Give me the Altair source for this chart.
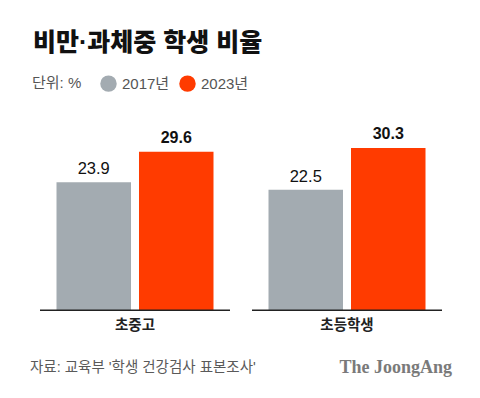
import altair as alt
import pandas as pd

categories = ["초중고", "초등학생"]
years = ["2017년", "2023년"]
values_2017 = [23.9, 22.5]
values_2023 = [29.6, 30.3]
colors = ["#a3abb1", "#ff3b00"]

title_text = "비만·과체중 학생 비율"
unit_text = "단위: %"
source_text = "자료: 교육부 '학생 건강검사 표본조사'"
brand_text = "The JoongAng"

rows = []
for c, v in zip(categories, values_2017):
    rows.append({"category": c, "year": years[0], "value": v})
for c, v in zip(categories, values_2023):
    rows.append({"category": c, "year": years[1], "value": v})
df = pd.DataFrame(rows)
df_cat = pd.DataFrame({"category": categories})

KR = "Liberation Sans, Noto Sans CJK KR"
NUM = "Liberation Sans, Arial"

x_enc = alt.X("category:N", sort=categories, axis=None,
              scale=alt.Scale(paddingInner=0.1038, paddingOuter=0))
xo_enc = alt.XOffset("year:N", sort=years,
                     scale=alt.Scale(paddingInner=0.097, paddingOuter=0.2))
y_enc = alt.Y("value:Q", axis=None, scale=alt.Scale(domain=[0, 40]))

base = alt.Chart(df)

bars = base.mark_bar().encode(
    x=x_enc, xOffset=xo_enc, y=y_enc,
    color=alt.Color("year:N", scale=alt.Scale(domain=years, range=colors),
                    legend=alt.Legend(
                        title=unit_text, orient="none", direction="horizontal",
                        legendX=-8, legendY=-21,
                        titleOrient="left", titleFontSize=15, titleFont=KR,
                        titleFontWeight="normal", titleColor="#555",
                        titlePadding=18, titleBaseline="middle",
                        symbolType="circle", symbolSize=270, symbolStrokeWidth=0,
                        symbolOpacity=1,
                        labelFont=KR, labelFontSize=15, labelColor="#555",
                        labelOffset=5, columnPadding=9)),
)

labels_2017 = base.transform_filter(alt.datum.year == years[0]).mark_text(
    baseline="bottom", dy=-5, font=NUM, fontSize=16.5, color="#111"
).encode(x=x_enc, xOffset=xo_enc, y=y_enc, text=alt.Text("value:Q", format=".1f"))

labels_2023 = base.transform_filter(alt.datum.year == years[1]).mark_text(
    baseline="bottom", dy=-6, font=NUM, fontSize=16, fontWeight="bold", color="#111"
).encode(x=x_enc, xOffset=xo_enc, y=y_enc, text=alt.Text("value:Q", format=".1f"))

baseline = alt.Chart(df_cat).mark_bar(color="#222").encode(
    x=x_enc, y=alt.value(213.6), y2=alt.value(214.9)
)

cat_labels = alt.Chart(df_cat).mark_text(
    font=KR, fontSize=14.5, fontWeight="bold", color="#222", baseline="middle"
).encode(x=x_enc, y=alt.value(230), text="category:N")

title = alt.Chart(pd.DataFrame({"t": [title_text]})).mark_text(
    font=KR, fontSize=25, fontWeight=900, color="#111", align="left", baseline="middle"
).encode(x=alt.value(-7), y=alt.value(-53), text="t:N")

source = alt.Chart(pd.DataFrame({"t": [source_text]})).mark_text(
    font=KR, fontSize=14.5, color="#5a5a5a", align="left", baseline="middle"
).encode(x=alt.value(-10), y=alt.value(272), text="t:N")

brand = alt.Chart(pd.DataFrame({"t": [brand_text]})).mark_text(
    font="Liberation Serif, DejaVu Serif", fontSize=18, fontWeight="bold",
    color="#7a7a7a", align="right", baseline="middle"
).encode(x=alt.value(412), y=alt.value(272), text="t:N")

chart = alt.layer(bars, baseline, labels_2017, labels_2023, cat_labels, title, source, brand).properties(
    width=402, height=214,
    autosize=alt.AutoSizeParams(type="none"),
    padding={"left": 32, "top": 88, "right": 30, "bottom": 80},
    background="white",
).configure_view(stroke=None)

chart.save("out.html", embed_options={"renderer": "svg", "actions": False})
